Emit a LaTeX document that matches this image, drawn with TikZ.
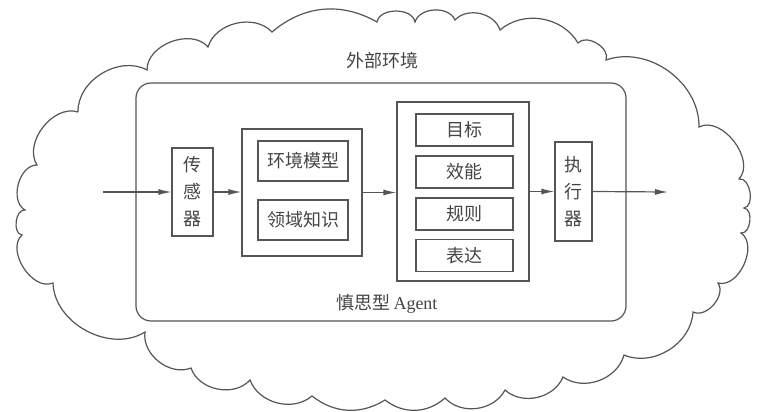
\documentclass[tikz,border=0pt]{standalone}
\usepackage{fontspec}
\setmainfont{Liberation Serif}
\newfontfamily\cjk{Noto Sans CJK SC}
\usetikzlibrary{arrows.meta}
\definecolor{ink}{HTML}{555555}
\definecolor{txt}{HTML}{444444}
\begin{document}
\begin{tikzpicture}[x=1pt,y=-1pt,
  line/.style={draw=ink, line width=1.2pt},
  box/.style={line, inner sep=0pt, align=center, font=\cjk\fontsize{18}{27}\selectfont, text=txt},
  arr/.style={line, -{Latex[length=13pt,width=6pt]}},
  lbl/.style={font=\cjk\fontsize{18}{22}\selectfont, text=txt, inner sep=0pt},
  cl/.style={bend left=#1}]
\useasboundingbox (0,0) rectangle (766,412);
% cloud
\draw[line, line join=miter]
  (78,112) to[cl=60] (147,70) to[cl=70] (208,47) to[cl=60] (272,32)
  to[cl=35] (377,22) to[cl=80] (415,22) to[cl=70] (455,20) to[cl=60] (500,30)
  to[cl=50] (578,43) to[cl=80] (606,60) to[cl=55] (699,127)
  to[cl=80] (739,179) to[cl=90] (744,208) to[cl=90] (741,233) to[cl=80] (718,283)
  to[cl=75] (693,312) to[cl=55] (624,355) to[cl=55] (563,377) to[cl=55] (505,390)
  to[cl=55] (445,398) to[cl=40] (385,400) to[cl=35] (312,396) to[cl=55] (250,380)
  to[cl=60] (191,368) to[cl=60] (145,332) to[cl=60] (53,283)
  to[cl=80] (22,235) to[cl=90] (25,210) to[cl=75] (37,165) to[cl=70] (78,112);
% agent frame
\node[line, rounded corners=15pt, minimum width=490pt, minimum height=238pt] (agent) at (381,202) {};
\node[lbl] (envlbl) at (382,61) {外部环境};
\node[lbl] (agentlbl) at (387,304) {慎思型\,{\rmfamily Agent}};
% components
\node[box, minimum width=41pt, minimum height=88pt] (sensor) at (192.5,192) {传\\感\\器};
\node[line, minimum width=120pt, minimum height=127pt] (know) at (302,192.5) {};
\node[box, minimum width=90pt, minimum height=40pt] (envmodel) at (303,161) {环境模型};
\node[box, minimum width=90pt, minimum height=40pt] (domain) at (303,220) {领域知识};
\node[line, minimum width=132pt, minimum height=179pt] (goals) at (463,191.5) {};
\node[box, minimum width=97pt, minimum height=32pt] (g1) at (464.5,130) {目标};
\node[box, minimum width=97pt, minimum height=32pt] (g2) at (464.5,172) {效能};
\node[box, minimum width=97pt, minimum height=32pt] (g3) at (464.5,214) {规则};
\node[box, minimum width=97pt, minimum height=32pt] (g4) at (464.5,255.5) {表达};
\node[box, minimum width=37pt, minimum height=99pt] (exec) at (573.5,191.5) {执\\行\\器};
% connectors
\coordinate (inp) at (103,192);
\coordinate (outp) at (668,192);
\draw[arr] (inp) -- (sensor.west);
\draw[arr] (sensor.east) -- (sensor.east -| know.west);
\draw[arr] (know.east) -- (know.east -| goals.west);
\draw[arr] (goals.east) -- (goals.east -| exec.west);
\draw[arr] (exec.east) -- (outp);
\end{tikzpicture}
\end{document}
